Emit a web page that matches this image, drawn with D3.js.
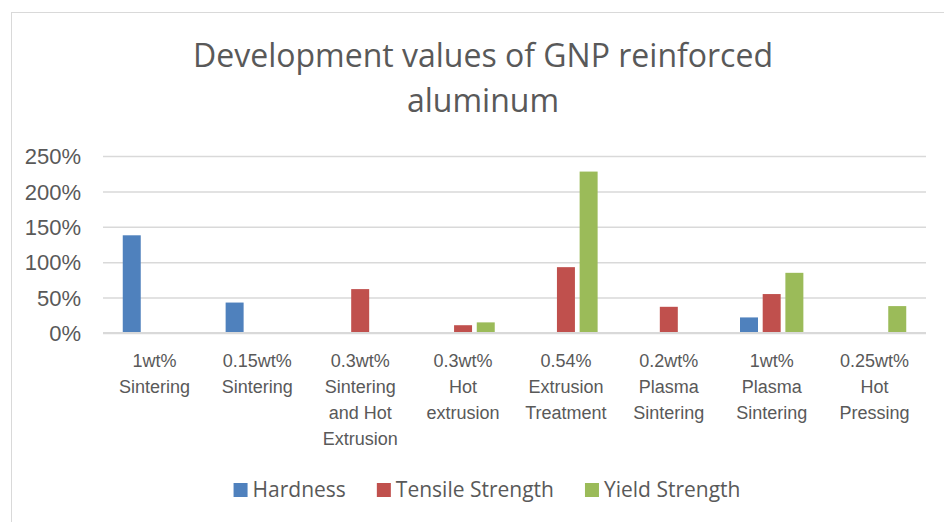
<!DOCTYPE html>
<html lang="en">
<head>
<meta charset="utf-8">
<title>Development values of GNP reinforced aluminum</title>
<script src="https://d3js.org/d3.v7.min.js"></script>
<style>
  body { margin: 0; background: #fff; }
  svg { display: block; font-family: "Open Sans", sans-serif; }
  .grid line { stroke: #d9d9d9; stroke-width: 1.5; }
  .axis path, .axis line { stroke: none; }
  .axis text { fill: #595959; }
</style>
</head>
<body>
<svg id="chart"></svg>
<script>
// chart data
var categories = [
  "1wt% Sintering",
  "0.15wt% Sintering",
  "0.3wt% Sintering and Hot Extrusion",
  "0.3wt% Hot extrusion",
  "0.54% Extrusion Treatment",
  "0.2wt% Plasma Sintering",
  "1wt% Plasma Sintering",
  "0.25wt% Hot Pressing"
];
// how the category labels wrap under the axis
var categoryLines = [
  ["1wt%", "Sintering"],
  ["0.15wt%", "Sintering"],
  ["0.3wt%", "Sintering", "and Hot", "Extrusion"],
  ["0.3wt%", "Hot", "extrusion"],
  ["0.54%", "Extrusion", "Treatment"],
  ["0.2wt%", "Plasma", "Sintering"],
  ["1wt%", "Plasma", "Sintering"],
  ["0.25wt%", "Hot", "Pressing"]
];
var seriesNames = ["Hardness", "Tensile Strength", "Yield Strength"];
var hardness        = [1.38, 0.43, null, null, null, null, 0.22, null];
var tensileStrength = [null, null, 0.62, 0.11, 0.93, 0.37, 0.55, null];
var yieldStrength   = [null, null, null, 0.15, 2.28, null, 0.85, 0.38];
var yTicks = [0, 0.5, 1, 1.5, 2, 2.5];
var titleLines = ["Development values of GNP reinforced", "aluminum"];

var seriesValues = [hardness, tensileStrength, yieldStrength];
var colors = ["#4F81BD", "#C0504D", "#9BBB59"];

var W = 944, H = 522;
var margin = {top: 156, right: 18, bottom: 189, left: 103};

var svg = d3.select("#chart").attr("width", W).attr("height", H);

// outer border of the chart area
svg.append("rect")
    .attr("x", 11.5).attr("y", 12.5)
    .attr("width", W + 10).attr("height", H + 10)
    .attr("fill", "none").attr("stroke", "#d9d9d9");

// title
svg.append("g").selectAll("text")
    .data(titleLines)
  .enter().append("text")
    .attr("x", 483)
    .attr("y", function(d, i) { return 67 + i * 45; })
    .attr("text-anchor", "middle")
    .attr("fill", "#595959")
    .style("font-size", "32px")
    .text(function(d) { return d; });

// scales
var x0 = d3.scaleBand()
    .domain(categories)
    .range([margin.left, W - margin.right])
    .paddingInner(0.384)
    .paddingOuter(0.192);

var x1 = d3.scaleBand()
    .domain(seriesNames)
    .range([0, x0.bandwidth()])
    .paddingInner(0.207);

var y = d3.scaleLinear()
    .domain([0, 2.5])
    .range([H - margin.bottom, margin.top]);

// gridlines
svg.append("g")
    .attr("class", "grid")
    .attr("transform", "translate(" + margin.left + ",0)")
    .call(d3.axisLeft(y).tickValues(yTicks).tickSize(-(W - margin.left - margin.right)).tickFormat(""))
    .call(function(g) { g.select(".domain").remove(); });

// y axis labels
svg.append("g")
    .attr("class", "axis")
    .attr("transform", "translate(81,0)")
    .call(d3.axisLeft(y).tickValues(yTicks).tickSize(0).tickPadding(0).tickFormat(d3.format(".0%")))
    .call(function(g) {
      g.selectAll("text").style("font-size", "22px").attr("dy", "0.35em");
    });

// bars
var groups = svg.append("g").selectAll("g")
    .data(categories)
  .enter().append("g")
    .attr("transform", function(d) { return "translate(" + x0(d) + ",0)"; });

groups.selectAll("rect")
    .data(function(d, i) {
      return seriesNames.map(function(s, j) {
        return {series: s, value: seriesValues[j][i], color: colors[j]};
      }).filter(function(e) { return e.value != null; });
    })
  .enter().append("rect")
    .attr("x", function(d) { return x1(d.series); })
    .attr("y", function(d) { return y(d.value); })
    .attr("width", x1.bandwidth())
    .attr("height", function(d) { return y(0) - y(d.value); })
    .attr("fill", function(d) { return d.color; });

// x axis with wrapped labels
var xAxis = svg.append("g")
    .attr("class", "axis")
    .attr("transform", "translate(0," + y(0) + ")")
    .call(d3.axisBottom(x0).tickSize(0).tickPadding(0));

xAxis.select(".domain").remove();
xAxis.selectAll(".tick text")
    .style("font-size", "18px")
    .attr("y", 0)
    .attr("dy", null)
    .text(null)
    .each(function(d, i) {
      var t = d3.select(this);
      categoryLines[i].forEach(function(line, k) {
        t.append("tspan")
          .attr("x", 0)
          .attr("y", 34 + k * 26)
          .text(line);
      });
    });

// baseline
svg.append("line")
    .attr("x1", margin.left).attr("x2", W - margin.right)
    .attr("y1", y(0)).attr("y2", y(0))
    .attr("stroke", "#d9d9d9").attr("stroke-width", 2);

// legend
var legend = svg.append("g");
var lx = 0;
seriesNames.forEach(function(name, i) {
  var item = legend.append("g").attr("transform", "translate(" + lx + ",0)");
  item.append("rect")
      .attr("x", 0).attr("y", -14)
      .attr("width", 14).attr("height", 14)
      .attr("fill", colors[i]);
  var txt = item.append("text")
      .attr("x", 19).attr("y", 0)
      .attr("fill", "#595959")
      .style("font-size", "21px")
      .text(name);
  lx += 19 + txt.node().getComputedTextLength() + 31;
});
var legendWidth = lx - 31;
legend.attr("transform", "translate(" + (487 - legendWidth / 2) + ",497)");
</script>
</body>
</html>
